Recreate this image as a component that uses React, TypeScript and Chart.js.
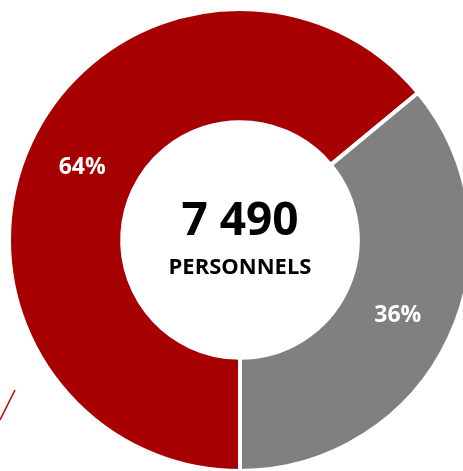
import React, { useEffect, useRef } from "react";
import { Chart, registerables } from "chart.js";

Chart.register(...registerables);

const categories = ["Groupe A", "Groupe B"];
const shares = [64, 36];
const colors = ["#A60000", "#808080"];
const totalLabel = "7 490";
const subLabel = "PERSONNELS";

const FONT = "'Open Sans', 'Noto Sans', sans-serif";

const overlayPlugin = {
  id: "overlay",
  afterDatasetsDraw(chart: any) {
    const ctx = chart.ctx as CanvasRenderingContext2D;
    const meta = chart.getDatasetMeta(0);
    ctx.save();
    ctx.fillStyle = "#ffffff";
    ctx.font = `bold 23px ${FONT}`;
    ctx.textAlign = "center";
    ctx.textBaseline = "alphabetic";
    meta.data.forEach((arc: any, i: number) => {
      const p = arc.tooltipPosition();
      ctx.fillText(`${shares[i]}%`, p.x, p.y + 8);
    });
    const cx = meta.data[0].x;
    const cy = meta.data[0].y;
    ctx.fillStyle = "#000000";
    ctx.font = `bold 46px ${FONT}`;
    ctx.fillText(totalLabel, cx, cy - 5);
    ctx.font = `bold 22px ${FONT}`;
    ctx.fillText(subLabel, cx, cy + 34);
    ctx.strokeStyle = "#C00000";
    ctx.lineWidth = 1.5;
    ctx.beginPath();
    ctx.moveTo(15, 390);
    ctx.lineTo(0, 420);
    ctx.stroke();
    ctx.restore();
  },
};

export default function App() {
  const ref = useRef<HTMLCanvasElement | null>(null);
  useEffect(() => {
    if (!ref.current) return;
    const chart = new Chart(ref.current, {
      type: "doughnut",
      data: {
        labels: categories,
        datasets: [
          {
            data: shares,
            backgroundColor: colors,
            borderColor: "#ffffff",
            borderWidth: 4,
          },
        ],
      },
      options: {
        responsive: false,
        animation: false,
        rotation: 180,
        cutout: "51%",
        layout: { padding: 7 },
        plugins: {
          legend: { display: false },
          tooltip: { enabled: false },
        },
      },
      plugins: [overlayPlugin],
    });
    return () => chart.destroy();
  }, []);
  return (
    <div
      style={{
        position: "fixed",
        left: 0,
        top: 0,
        width: 463,
        height: 471,
        overflow: "hidden",
        background: "#fff",
      }}
    >
      <canvas ref={ref} width={480} height={480} style={{ display: "block" }} />
    </div>
  );
}
